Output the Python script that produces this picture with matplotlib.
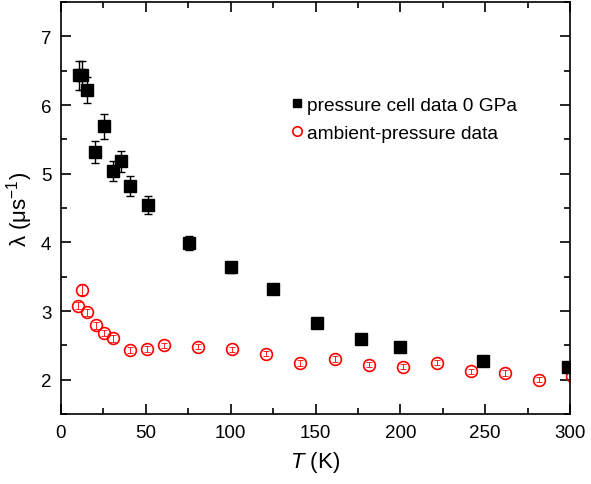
import matplotlib
matplotlib.use('Agg')
import matplotlib.pyplot as plt
from matplotlib.ticker import MultipleLocator

plt.rcParams['font.family'] = ['Liberation Sans', 'DejaVu Sans']
plt.rcParams['mathtext.fontset'] = 'custom'
plt.rcParams['mathtext.rm'] = 'Liberation Sans'
plt.rcParams['mathtext.it'] = 'Liberation Sans:italic'

# pressure cell data 0 GPa
T_cell = [10.6, 12.4, 15.2, 20.3, 25.4, 30.5, 35.6, 40.8, 51, 75.6, 100.4, 125, 150.8, 177, 200, 248.5, 298.7]
lam_cell = [6.43, 6.43, 6.22, 5.32, 5.69, 5.04, 5.18, 4.82, 4.55, 3.99, 3.64, 3.32, 2.82, 2.59, 2.47, 2.27, 2.18]
err_cell = [0.21, 0.21, 0.19, 0.16, 0.18, 0.15, 0.15, 0.14, 0.13, 0.10, 0.08, 0.07, 0.04, 0.03, 0.03, 0.03, 0.03]

# ambient-pressure data
T_amb = [10.2, 12.4, 15.4, 20.5, 25.6, 30.5, 40.5, 50.6, 60.7, 80.7, 100.6, 120.9,
         141, 161.4, 181.3, 201.6, 221.7, 241.8, 261.9, 282, 301]
lam_amb = [3.08, 3.31, 2.98, 2.79, 2.68, 2.60, 2.43, 2.45, 2.50, 2.48, 2.44, 2.38,
           2.24, 2.30, 2.22, 2.19, 2.25, 2.12, 2.10, 2.00, 2.05]
err_amb = [0.05, 0.08, 0.05, 0.05, 0.05, 0.05, 0.04, 0.04, 0.04, 0.04, 0.04, 0.04,
           0.04, 0.04, 0.04, 0.04, 0.04, 0.04, 0.04, 0.04, 0.04]

fig = plt.figure(figsize=(5.91, 4.85), dpi=100)
ax = fig.add_axes([0.1032, 0.1443, 0.8613, 0.8495])

# error bars first, markers on top (legend shows markers only)
ax.errorbar(T_cell, lam_cell, yerr=err_cell, fmt='none', ecolor='black',
            elinewidth=1, capsize=3, capthick=1, zorder=3)
ax.plot(T_cell, lam_cell, 's', color='black', ms=8, label='pressure cell data 0 GPa', zorder=4)
ax.errorbar(T_amb, lam_amb, yerr=err_amb, fmt='none', ecolor='red',
            elinewidth=0.6, capsize=2.5, capthick=0.6, zorder=2)
ax.plot(T_amb, lam_amb, 'o', mfc='none', mec='red', ms=8.5, mew=1.2,
        label='ambient-pressure data', zorder=2)

ax.set_xlim(0, 300)
ax.set_ylim(1.5, 7.5)
ax.xaxis.set_major_locator(MultipleLocator(50))
ax.xaxis.set_minor_locator(MultipleLocator(25))
ax.yaxis.set_major_locator(MultipleLocator(1))
ax.yaxis.set_minor_locator(MultipleLocator(0.5))
ax.tick_params(which='both', direction='in', top=True, right=True, labelsize=13.5, width=1.2)
ax.tick_params(which='major', length=7, pad=7)
ax.tick_params(which='minor', length=4)
for s in ax.spines.values():
    s.set_linewidth(1.2)

ax.set_xlabel(r'$T$ (K)', fontsize=16, labelpad=6)
ax.set_ylabel(r'λ (μs$^{\mathdefault{-1}}$)', fontsize=16, labelpad=4)

ax.legend(loc='upper left', bbox_to_anchor=(0.43, 0.79), frameon=False, fontsize=13.8,
          handletextpad=0.0, handlelength=1.0, labelspacing=0.55, borderaxespad=0,
          markerscale=0.8)

fig.savefig('out.png', dpi=100)
